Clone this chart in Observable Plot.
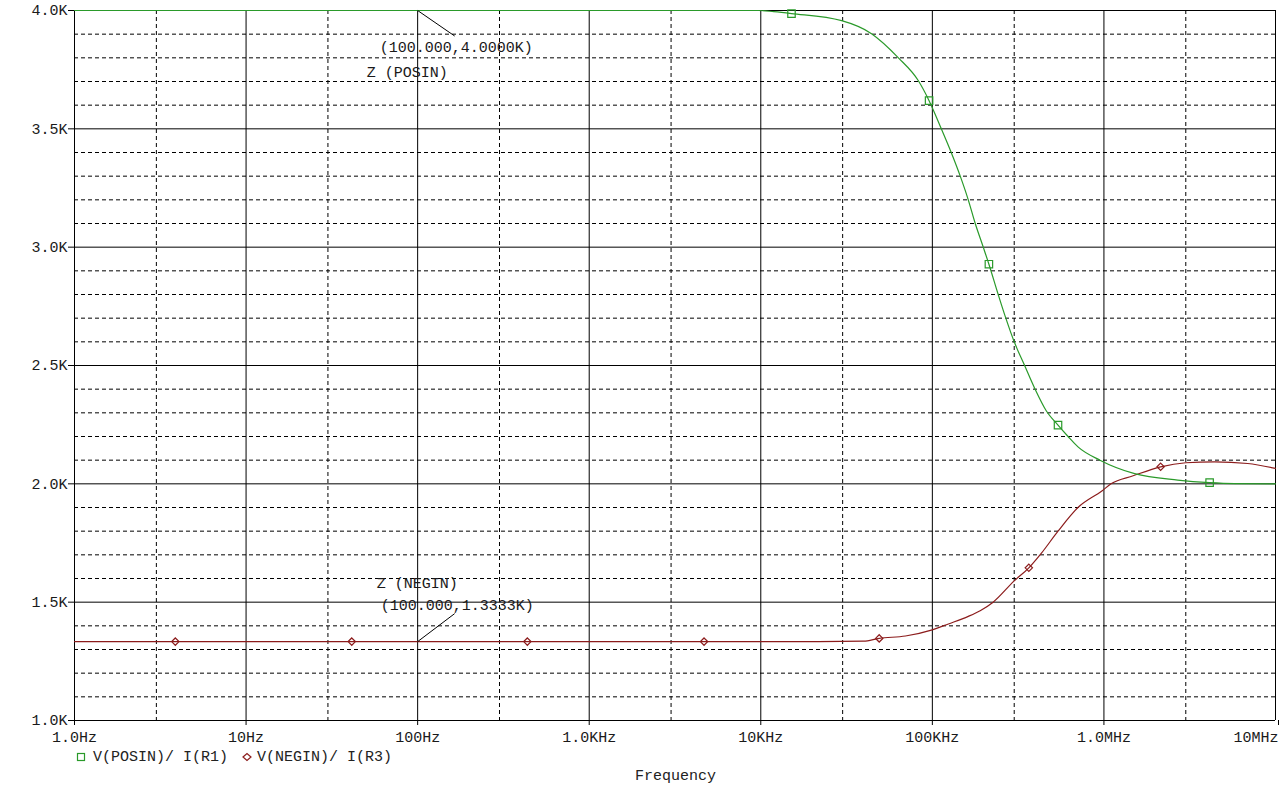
<!DOCTYPE html>
<html><head><meta charset="utf-8">
<script src="https://cdn.jsdelivr.net/npm/d3@7"></script>
<script src="https://cdn.jsdelivr.net/npm/@observablehq/plot@0.6"></script>
<style>
body{margin:0;background:#fff;font-family:"Liberation Mono",monospace;}
#wrap{position:relative;width:1283px;height:787px;background:#fff;overflow:hidden}
.t{position:absolute;font-size:15px;color:#222;white-space:pre;line-height:15px}
</style></head><body><div id="wrap"></div>
<script>
// ---- data ----
const xTickValues = [1, 10, 100, 1e3, 1e4, 1e5, 1e6, 1e7];
const xTickLabels = ["1.0Hz", "10Hz", "100Hz", "1.0KHz", "10KHz", "100KHz", "1.0MHz", "10MHz"];
const xMinorValues = [3, 30, 300, 3e3, 3e4, 3e5, 3e6];
const yTickValues = [1000, 1500, 2000, 2500, 3000, 3500, 4000];
const yTickLabels = ["1.0K", "1.5K", "2.0K", "2.5K", "3.0K", "3.5K", "4.0K"];

const posinFreq = [1, 1000, 9730, 11900, 15100, 29600, 44200, 63400, 82900, 95700, 112800, 128800, 145400, 161900, 177800, 198000, 213600, 242000, 268000, 300000, 345000, 397000, 460000, 540000, 618000, 706000, 948000, 1510000, 2690000, 4130000, 5780000, 10000000];
const posinZ    = [4000, 4000, 4000, 3995, 3987, 3957, 3902, 3800, 3703, 3619, 3500, 3400, 3300, 3200, 3100, 3000, 2928, 2800, 2700, 2600, 2500, 2400, 2310, 2248, 2200, 2156, 2100, 2043, 2016, 2005, 2001, 2000];

const neginFreq = [1, 21700, 39700, 49000, 69700, 98700, 124000, 162000, 190000, 226000, 300000, 365000, 430000, 540000, 706000, 973000, 1100000, 1480000, 2140000, 3000000, 4420000, 6880000, 10000000];
const neginZ    = [1333.3, 1333.3, 1335, 1347, 1357, 1382, 1408, 1440, 1464, 1500, 1590, 1645, 1705, 1800, 1900, 1970, 2000, 2034, 2072, 2089, 2093, 2086, 2065];

const posinMarkFreq = [15100, 95700, 213600, 540000, 4130000];
const posinMarkZ    = [3987, 3619, 2928, 2248, 2005];
const neginMarkFreq = [3.87, 41.3, 436, 4670, 49000, 365000, 2140000];
const neginMarkZ    = [1333.3, 1333.3, 1333.3, 1333.3, 1347, 1645, 2072];

const cursorFreq  = [100, 100];
const cursorZ     = [4000, 1333.3];
const cursorValue = ["(100.000,4.0000K)", "(100.000,1.3333K)"];
const cursorName  = ["Z (POSIN)", "Z (NEGIN)"];

const legendNames = ["V(POSIN)/ I(R1)", "V(NEGIN)/ I(R3)"];
const xTitle = "Frequency";

// ---- build ----
const GREEN = "#2a9a2a", RED = "#8c1c1c", INK = "#1a1a1a";
const W = 1283, H = 750, ML = 74, MR = 8, MT = 10, MB = 30;
const posin = posinFreq.map((f, i) => ({f, z: posinZ[i]}));
const negin = neginFreq.map((f, i) => ({f, z: neginZ[i]}));
const posinMarks = posinMarkFreq.map((f, i) => ({f, z: posinMarkZ[i]}));
const neginMarks = neginMarkFreq.map((f, i) => ({f, z: neginMarkZ[i]}));
const yMinor = d3.range(1100, 4000, 100).filter(v => v % 500 !== 0);
const xLab = new Map(xTickValues.map((v, i) => [v, xTickLabels[i]]));
const yLab = new Map(yTickValues.map((v, i) => [v, yTickLabels[i]]));
const xInner = xTickValues.slice(0, -1);
const xLast = xTickValues.slice(-1);

// pixel offsets of the cursor leader lines converted to data space
const decadePx = (W - ML - MR) / 7;
const unitPx = (H - MT - MB) / 3000;
const cursors = cursorFreq.map((f, i) => {
  const up = cursorZ[i] > 2500;
  return {
    f, z: cursorZ[i], value: cursorValue[i], name: cursorName[i], up,
    f2: f * Math.pow(10, 37 / decadePx),
    z2: cursorZ[i] + (up ? -25.5 : 28) / unitPx
  };
});

const dash = {stroke: "#000", strokeWidth: 1, strokeDasharray: "4,3"};
const chart = Plot.plot({
  width: W, height: H, marginTop: MT, marginBottom: MB, marginLeft: ML, marginRight: MR,
  style: {fontFamily: "'Liberation Mono', monospace", fontSize: "15px", color: INK, background: "#fff", overflow: "visible"},
  x: {type: "log", domain: [1, 1e7], axis: null},
  y: {domain: [1000, 4000], axis: null},
  marks: [
    Plot.ruleX(xMinorValues, dash),
    Plot.ruleY(yMinor, dash),
    Plot.ruleX(xTickValues, {stroke: "#000", strokeWidth: 1}),
    Plot.ruleY(yTickValues, {stroke: "#000", strokeWidth: 1}),
    Plot.axisX(xInner, {tickFormat: d => xLab.get(d), tickSize: 5, tickPadding: 6, fontSize: 15, stroke: "#000", fill: INK}),
    Plot.tickX(xLast, {x: d => d, frameAnchor: "bottom", y1: 1000, y2: 1000, stroke: "#000"}),
    Plot.axisX(xLast, {tickFormat: d => xLab.get(d), tickSize: 5, tickPadding: 6, fontSize: 15, stroke: "#000", fill: INK, textAnchor: "end", dx: 3}),
    Plot.axisY(yTickValues, {tickFormat: d => yLab.get(d), tickSize: 6, tickPadding: 1, fontSize: 15, stroke: "#000", fill: INK}),
    Plot.line(negin, {x: "f", y: "z", stroke: RED, strokeWidth: 1.2, curve: "monotone-x"}),
    Plot.line(posin, {x: "f", y: "z", stroke: GREEN, strokeWidth: 1.2, curve: "monotone-x"}),
    Plot.dot(posinMarks, {x: "f", y: "z", symbol: "square", r: 4.2, stroke: GREEN, fill: "none", strokeWidth: 1.2}),
    Plot.dot(neginMarks, {x: "f", y: "z", symbol: "diamond2", r: 3.3, stroke: RED, fill: "none", strokeWidth: 1.2}),
    Plot.link(cursors, {x1: "f", y1: "z", x2: "f2", y2: "z2", stroke: "#000", strokeWidth: 1}),
    Plot.text(cursors.filter(d => d.up), {x: "f", y: "z", text: "value", textAnchor: "start", dx: -38, dy: 37, fill: INK, fontSize: 15}),
    Plot.text(cursors.filter(d => d.up), {x: "f", y: "z", text: "name", textAnchor: "start", dx: -51, dy: 62, fill: INK, fontSize: 15}),
    Plot.text(cursors.filter(d => !d.up), {x: "f", y: "z", text: "value", textAnchor: "start", dx: -37, dy: -36, fill: INK, fontSize: 15}),
    Plot.text(cursors.filter(d => !d.up), {x: "f", y: "z", text: "name", textAnchor: "start", dx: -41, dy: -58, fill: INK, fontSize: 15})
  ]
});
const wrap = document.getElementById("wrap");
wrap.appendChild(chart);

// legend and axis title below the SVG
const leg = document.createElement("div");
leg.className = "t";
leg.style.left = "76px"; leg.style.top = "750px";
leg.innerHTML =
  `<svg width="10" height="10" style="vertical-align:-1px"><rect x="1.5" y="1.5" width="7" height="7" fill="none" stroke="${GREEN}" stroke-width="1.2"/></svg>` +
  `<span style="margin-left:7px">${legendNames[0]}</span>` +
  `<svg width="10" height="10" style="vertical-align:-1px;margin-left:14px"><path d="M1,5 L5,1.5 L9,5 L5,8.5 Z" fill="none" stroke="${RED}" stroke-width="1.2"/></svg>` +
  `<span style="margin-left:5px">${legendNames[1]}</span>`;
wrap.appendChild(leg);
const xt = document.createElement("div");
xt.className = "t";
xt.style.left = "635px"; xt.style.top = "769px";
xt.textContent = xTitle;
wrap.appendChild(xt);
</script></body></html>
